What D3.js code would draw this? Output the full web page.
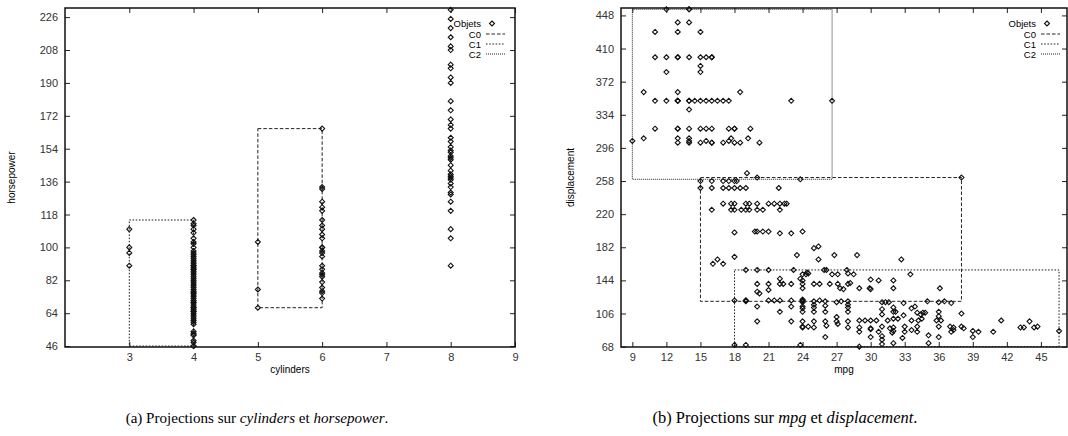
<!DOCTYPE html>
<html>
<head>
<meta charset="utf-8">
<script src="https://cdn.jsdelivr.net/npm/d3@7"></script>
<style>
  body { margin: 0; background: #fff; }
  svg text { font-family: "Liberation Sans", Arial, sans-serif; }
  .caption { font-family: "Liberation Serif", "DejaVu Serif", serif; }
</style>
</head>
<body>
<svg id="chart" width="1068" height="436"></svg>
<script>
// ---- data : left panel (cylinders / horsepower) ----
var hp3 = [97, 90, 110, 100];
var hp4 = [46, 46, 48, 49, 52, 52, 53, 54, 58, 59, 60, 61, 62, 63, 64, 65, 65, 66, 67, 67, 68, 69, 70, 70, 71, 72,
           73, 74, 75, 75, 76, 77, 78, 79, 80, 81, 82, 83, 84, 85, 86, 87, 88, 88, 89, 90, 90, 91, 92, 93, 94, 95,
           96, 97, 98, 100, 102, 103, 105, 108, 110, 112, 113, 115];
var hp5 = [103, 77, 67];
var hp6 = [72, 75, 76, 78, 81, 84, 85, 86, 88, 90, 95, 97, 98, 100, 100, 105, 107, 110, 112, 115, 120, 122,
           125, 132, 133, 165];
var hp8 = [90, 105, 110, 120, 125, 129, 130, 133, 135, 137, 138, 139, 140, 142, 145, 148, 149, 150, 152, 153,
           155, 158, 160, 165, 167, 170, 175, 180, 190, 193, 198, 200, 208, 210, 215, 220, 225, 230];

var cylTicks = [3, 4, 5, 6, 7, 8, 9];
var hpTicks = [46, 64, 82, 100, 118, 136, 154, 172, 190, 208, 226];

// ---- data : right panel (mpg / displacement), [mpg, displacement] ----
var mpgDisp = [
  [12,455],[14,455],[14,455],[13,440],[14,440],[11,429],[13,429],[15,429],
  [11,400],[12,400],[13,400],[13,400],[14,400],[15,400],[15.5,400],[16,400],[16,400],
  [15,390],[12,383],[15,383],[10,360],[13,360],[18.5,360],
  [11,350],[12,350],[13,350],[13,350],[13,350],[14,350],[14,350],[14.5,350],[15,350],[15.5,350],
  [16,350],[16.5,350],[17,350],[17.5,350],[23,350],[26.6,350],[14,340],
  [11,318],[13,318],[13,318],[14,318],[15,318],[15.5,318],[16,318],[17.5,318],[18,318],[18,318],[19.4,318],
  [9,304],[10,307],[13,302],[13,307],[14,302],[14,304],[14,307],[15,302],[15.5,304],[16,302],[16,302],
  [17,302],[17.5,304],[17.7,307],[18,302],[18.5,302],[19.2,307],[20.2,302],
  [19.1,267],[20,262],[23.8,260],[38,262],[21.9,250],
  [15,258],[16,258],[17,258],[17.5,258],[18,258],[18.2,258],
  [15,250],[16,250],[17,250],[17.5,250],[18,250],[18.5,250],[19,250],
  [17,232],[17.7,232],[18,232],[19,232],[19.3,232],[20,232],[21,232],[21.5,232],[22,232],[22.4,232],[22.6,232],
  [16,225],[17.7,225],[18,225],[18.6,225],[19,225],[19.3,225],[20,225],[20.5,225],[22,225],
  [18,199],[19.8,200],[20,200],[20.5,200],[21,200],[22,198],[23,198],[24,200],
  [23.5,173],[18,171],[16.1,163],[16.5,168],[17,163],[25,181],[25.4,183],[25.4,168],[26.8,173],[28.8,173],[32.7,168],
  [19,156],[20,156],[21,156],[23.2,156],[24,151],[24.3,151],[24.4,153],[24.5,152],[25.9,156],[26.1,156],
  [26.6,151],[27.1,151],[27.9,156],[28,152],[28.5,151],[33.5,151],
  [22,146],[23.8,146],[24,144],[30,145],[30.7,144],[32,144],
  [20,140],[21,140],[22,140],[22.3,140],[23,140],[24,140],[25,140],[25.5,140],[26.4,140],[27.1,140],[28,140],[28.2,141],
  [21,133],[20,131],[20.2,129],
  [24,135],[27.3,135],[27.6,134],[29,135],[29.9,135],[32,135],[30,134],[36.1,135],
  [18,121],[19,121],[19,121],[19,120],[21,121],[21.5,121],[22,121],[23,121],[24,121],[24,120],[24,119],[24,122],
  [25,120],[25.5,121],[26,120],[27,119],[27.4,120],[28,120],[31,119],[31.3,119],[31.6,119],[32.9,118],
  [35,120],[36,119],[36.5,120],[37.1,118],
  [20,114],[23,114],[24,114],[24,112],[25,116],[25,113],[26,115],[28,116],[28,113],[31,111],[32,113],
  [22,108],[24,108],[25,108],[26,108],[28,108],[31,105],[32,108],[32.2,108],[33.6,112],[33.9,114],
  [34.1,107],[34.4,105],[34.6,107],[34.8,107],
  [27,102],[32,100],[32.4,100],[32.9,104],[34.5,100],[36,103],[36,108],[38,106],
  [20,97],[23,97],[24,97],[25,97],[26,97],[27,97],[28,97],[29,98],[29.5,98],[30,98],[30.5,98],[31.5,98],
  [33.6,98],[34.2,98],[35.8,98],[36.2,98],[41.5,98],[44,97],
  [24,91],[24.5,91],[24,90],[25,90],[26.1,92],[27.1,94],[28,90],[29,90],[30,89],[31,91],[31.7,89],[32,90],
  [33,91],[34.1,91],[36,91],[37,91],[37.3,90],[38,91],[38.2,89],[39,86],[39.5,85],[40.8,85],
  [43.2,90],[43.5,90],[44.4,90],[44.7,91],[46.6,86],
  [29,85],[30,88],[30.7,85],[31.9,84],[32,86],[33,85],[33.6,87],[34.1,85],[37.1,85],[37.3,87],
  [26,79],[30,79],[31,80],[32.8,78],[35.1,81],[36,79],[39,79],
  [31,76],[31,71],[32,72],[35.1,72],[29,68],[18,70],[19,70],[23.8,70]
];
var mpgTicks = [9, 12, 15, 18, 21, 24, 27, 30, 33, 36, 39, 42, 45];
var dispTicks = [68, 106, 144, 182, 220, 258, 296, 334, 372, 410, 448];

// cluster boxes [x0, x1, y0, y1]
var clusterNames = ["C0", "C1", "C2"];
var boxesCylHp = [[5, 6, 67, 165], [3, 4, 46, 115], [8, 8, 90, 230]];
var boxesMpgDisp = [[15, 38, 120, 262], [18, 46.6, 68, 156], [9, 26.6, 260, 455]];

var dashes = ["3.5,2", "1.6,1.6", "1,1"];
var svg = d3.select("#chart");

function diamond(r) {
  return "M0," + (-r) + "L" + r + ",0L0," + r + "L" + (-r) + ",0Z";
}

function scatterPanel(svg, p) {
  var x = d3.scaleLinear().domain(p.xdom).range([p.left, p.right]);
  var y = d3.scaleLinear().domain(p.ydom).range([p.bottom, p.top]);
  var g = svg.append("g");

  // axes (ticks inward, mirrored on top/right)
  g.append("g").attr("transform", "translate(0," + p.bottom + ")")
    .call(d3.axisBottom(x).tickValues(p.xticks).tickFormat(d3.format("d"))
      .tickSizeInner(-5).tickSizeOuter(0).tickPadding(6));
  g.append("g").attr("transform", "translate(" + p.left + ",0)")
    .call(d3.axisLeft(y).tickValues(p.yticks).tickFormat(d3.format("d"))
      .tickSizeInner(-5).tickSizeOuter(0).tickPadding(7));
  g.append("g").attr("transform", "translate(0," + p.top + ")")
    .call(d3.axisTop(x).tickValues(p.xticks).tickSizeInner(-5).tickSizeOuter(0).tickFormat(""));
  g.append("g").attr("transform", "translate(" + p.right + ",0)")
    .call(d3.axisRight(y).tickValues(p.yticks).tickSizeInner(-5).tickSizeOuter(0).tickFormat(""));
  g.selectAll(".domain").remove();
  g.selectAll(".tick line").attr("stroke", "#222");
  g.selectAll(".tick text").attr("font-size", 11).attr("fill", "#333");

  // boxes
  p.boxes.forEach(function(b, i) {
    g.append("rect")
      .attr("x", x(b[0])).attr("y", y(b[3]))
      .attr("width", x(b[1]) - x(b[0])).attr("height", y(b[2]) - y(b[3]))
      .attr("fill", "none").attr("stroke", "#222")
      .attr("stroke-width", 1).attr("stroke-dasharray", dashes[i]);
  });

  // points
  g.selectAll("path.pt").data(p.points).enter()
    .append("path").attr("class", "pt")
    .attr("d", diamond(2.5))
    .attr("transform", function(d) { return "translate(" + x(d[0]) + "," + y(d[1]) + ")"; })
    .attr("fill", "none").attr("stroke", "#111").attr("stroke-width", 1.1);

  // frame
  g.append("rect").attr("x", p.left).attr("y", p.top)
    .attr("width", p.right - p.left).attr("height", p.bottom - p.top)
    .attr("fill", "none").attr("stroke", "#111").attr("stroke-width", 1.5);

  // axis labels
  g.append("text").attr("x", (p.left + p.right) / 2).attr("y", 373)
    .attr("text-anchor", "middle").attr("font-size", 10).text(p.xlabel);
  g.append("text").attr("transform", "translate(" + p.ylabX + "," + ((p.top + p.bottom) / 2) + ") rotate(-90)")
    .attr("text-anchor", "middle").attr("font-size", 10).text(p.ylabel);

  // legend
  var lx = p.legendX;
  var lg = g.append("g").attr("font-size", 9.5);
  lg.append("text").attr("x", lx).attr("y", 26.8).attr("text-anchor", "end").text("Objets");
  lg.append("path").attr("d", diamond(2.5)).attr("transform", "translate(" + (lx + 11) + ",23.5)")
    .attr("fill", "none").attr("stroke", "#111").attr("stroke-width", 1.1);
  clusterNames.forEach(function(n, i) {
    var yy = 34 + i * 10;
    lg.append("text").attr("x", lx).attr("y", yy + 3.5).attr("text-anchor", "end").text(n);
    lg.append("line").attr("x1", lx + 5).attr("x2", lx + 24).attr("y1", yy).attr("y2", yy)
      .attr("stroke", "#222").attr("stroke-dasharray", dashes[i]);
  });
}

// left panel points
var cylHp = [];
hp3.forEach(function(h) { cylHp.push([3, h]); });
hp4.forEach(function(h) { cylHp.push([4, h]); });
hp5.forEach(function(h) { cylHp.push([5, h]); });
hp6.forEach(function(h) { cylHp.push([6, h]); });
hp8.forEach(function(h) { cylHp.push([8, h]); });

scatterPanel(svg, {
  left: 65, right: 515, top: 8, bottom: 347,
  xdom: [2, 9], ydom: [45.5, 231],
  xticks: cylTicks, yticks: hpTicks,
  points: cylHp, boxes: boxesCylHp,
  xlabel: "cylinders", ylabel: "horsepower", ylabX: 15, legendX: 481
});

scatterPanel(svg, {
  left: 621, right: 1067, top: 8, bottom: 347,
  xdom: [8, 47.3], ydom: [67.6, 456.5],
  xticks: mpgTicks, yticks: dispTicks,
  points: mpgDisp, boxes: boxesMpgDisp,
  xlabel: "mpg", ylabel: "displacement", ylabX: 574, legendX: 1036
});

// captions, sized to the width they take in the reference
function caption(cx, width, label, a, b) {
  var t = svg.append("text").attr("class", "caption")
    .attr("x", cx).attr("y", 423).attr("text-anchor", "middle").attr("font-size", 16);
  t.append("tspan").text(label + " Projections sur ");
  t.append("tspan").attr("font-style", "italic").text(a);
  t.append("tspan").text(" et ");
  t.append("tspan").attr("font-style", "italic").text(b);
  t.append("tspan").text(".");
  var w = t.node().getBBox().width;
  t.attr("font-size", 16 * width / w);
}
caption(257, 263, "(a)", "cylinders", "horsepower");
caption(785, 265, "(b)", "mpg", "displacement");
</script>
</body>
</html>
